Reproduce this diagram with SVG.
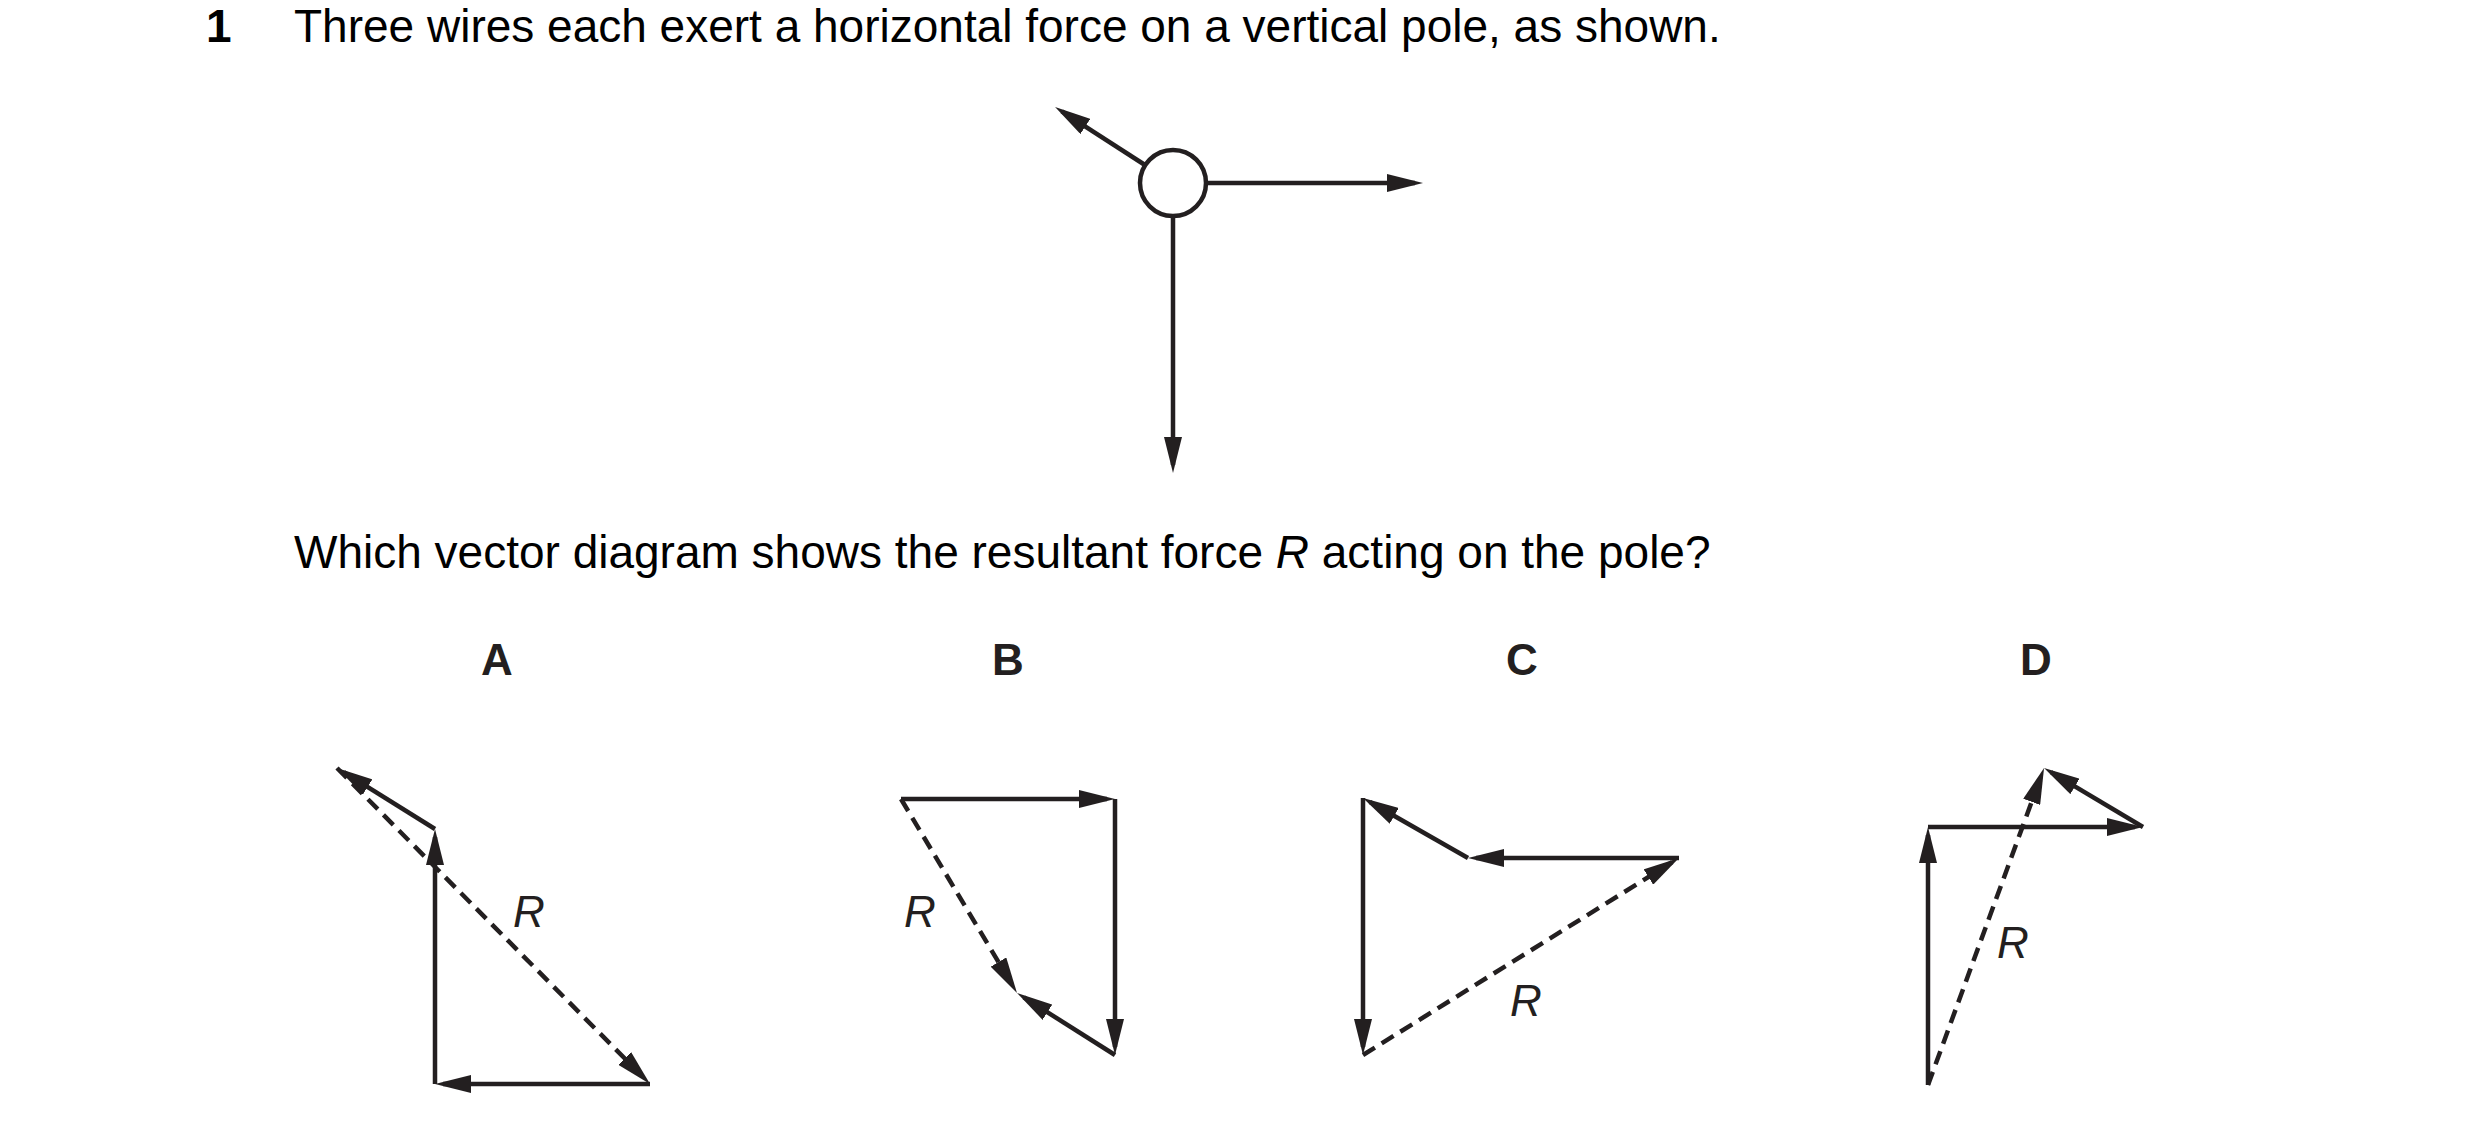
<svg xmlns="http://www.w3.org/2000/svg" width="2480" height="1134" viewBox="0 0 2480 1134">
<style>
.t{font-family:"Liberation Sans",Arial,sans-serif;font-size:46px;fill:#000}
.b{font-weight:bold}
.lab{font-family:"Liberation Sans",Arial,sans-serif;font-size:44px;font-weight:bold;fill:#231f20;text-anchor:middle}
.r{font-family:"Liberation Sans",Arial,sans-serif;font-size:44px;font-style:italic;fill:#231f20}
.v{stroke:#231f20;stroke-width:4.5;fill:none;marker-end:url(#ah)}
.d{stroke-dasharray:14 8}
.pole{stroke:#231f20;stroke-width:4.5;fill:#fff}
</style>
<defs>
<marker id="ah" viewBox="0 0 36 18" refX="28" refY="9" markerWidth="36" markerHeight="18" markerUnits="userSpaceOnUse" orient="auto">
<path d="M0,0 L36,9 L0,18 z" fill="#231f20"/>
</marker>
</defs>
<rect width="2480" height="1134" fill="#fff"/>
<g id="question">
<text class="t b" x="206" y="42">1</text>
<text class="t" x="294" y="42">Three wires each exert a horizontal force on a vertical pole, as shown.</text>
<text class="t" x="294" y="568">Which vector diagram shows the resultant force <tspan font-style="italic">R</tspan> acting on the pole?</text>
</g>
<g id="pole-figure">
<circle id="pole" class="pole" cx="1173" cy="183" r="33"/>
<g id="pole-forces">
<line class="v" x1="1206" y1="183" x2="1415" y2="183"/>
<line class="v" x1="1173" y1="216" x2="1173" y2="465"/>
<line class="v" x1="1145" y1="165" x2="1061.8" y2="111.3"/>
</g>
</g>
<g id="option-A">
<text class="lab" x="497" y="675">A</text>
<g id="connectors-A">
<line class="v" x1="650" y1="1084" x2="443" y2="1084"/>
<line class="v" x1="435" y1="1084" x2="435" y2="837"/>
<line class="v" x1="435" y1="829" x2="343.8" y2="772.2"/>
<line class="v d" x1="337" y1="768" x2="644.4" y2="1078.3"/>
</g>
<text class="r" x="513" y="927">R</text>
</g>
<g id="option-B">
<text class="lab" x="1008" y="675">B</text>
<g id="connectors-B">
<line class="v" x1="901" y1="799" x2="1107" y2="799"/>
<line class="v" x1="1115" y1="799" x2="1115" y2="1047"/>
<line class="v" x1="1115" y1="1055" x2="1023.8" y2="997.3"/>
<line class="v d" x1="901" y1="799" x2="1012.9" y2="986.1"/>
</g>
<text class="r" x="904" y="927">R</text>
</g>
<g id="option-C">
<text class="lab" x="1522" y="675">C</text>
<g id="connectors-C">
<line class="v" x1="1679" y1="858" x2="1476" y2="858"/>
<line class="v" x1="1468" y1="858" x2="1369.9" y2="802"/>
<line class="v" x1="1363" y1="798" x2="1363" y2="1047"/>
<line class="v d" x1="1363" y1="1055" x2="1672.2" y2="862.2"/>
</g>
<text class="r" x="1510" y="1016">R</text>
</g>
<g id="option-D">
<text class="lab" x="2036" y="675">D</text>
<g id="connectors-D">
<line class="v" x1="1928" y1="1085" x2="1928" y2="835"/>
<line class="v" x1="1928" y1="827" x2="2135" y2="827"/>
<line class="v" x1="2143" y1="827" x2="2050.9" y2="772.1"/>
<line class="v d" x1="1928" y1="1085" x2="2041.3" y2="775.5"/>
</g>
<text class="r" x="1997" y="958">R</text>
</g>
</svg>
